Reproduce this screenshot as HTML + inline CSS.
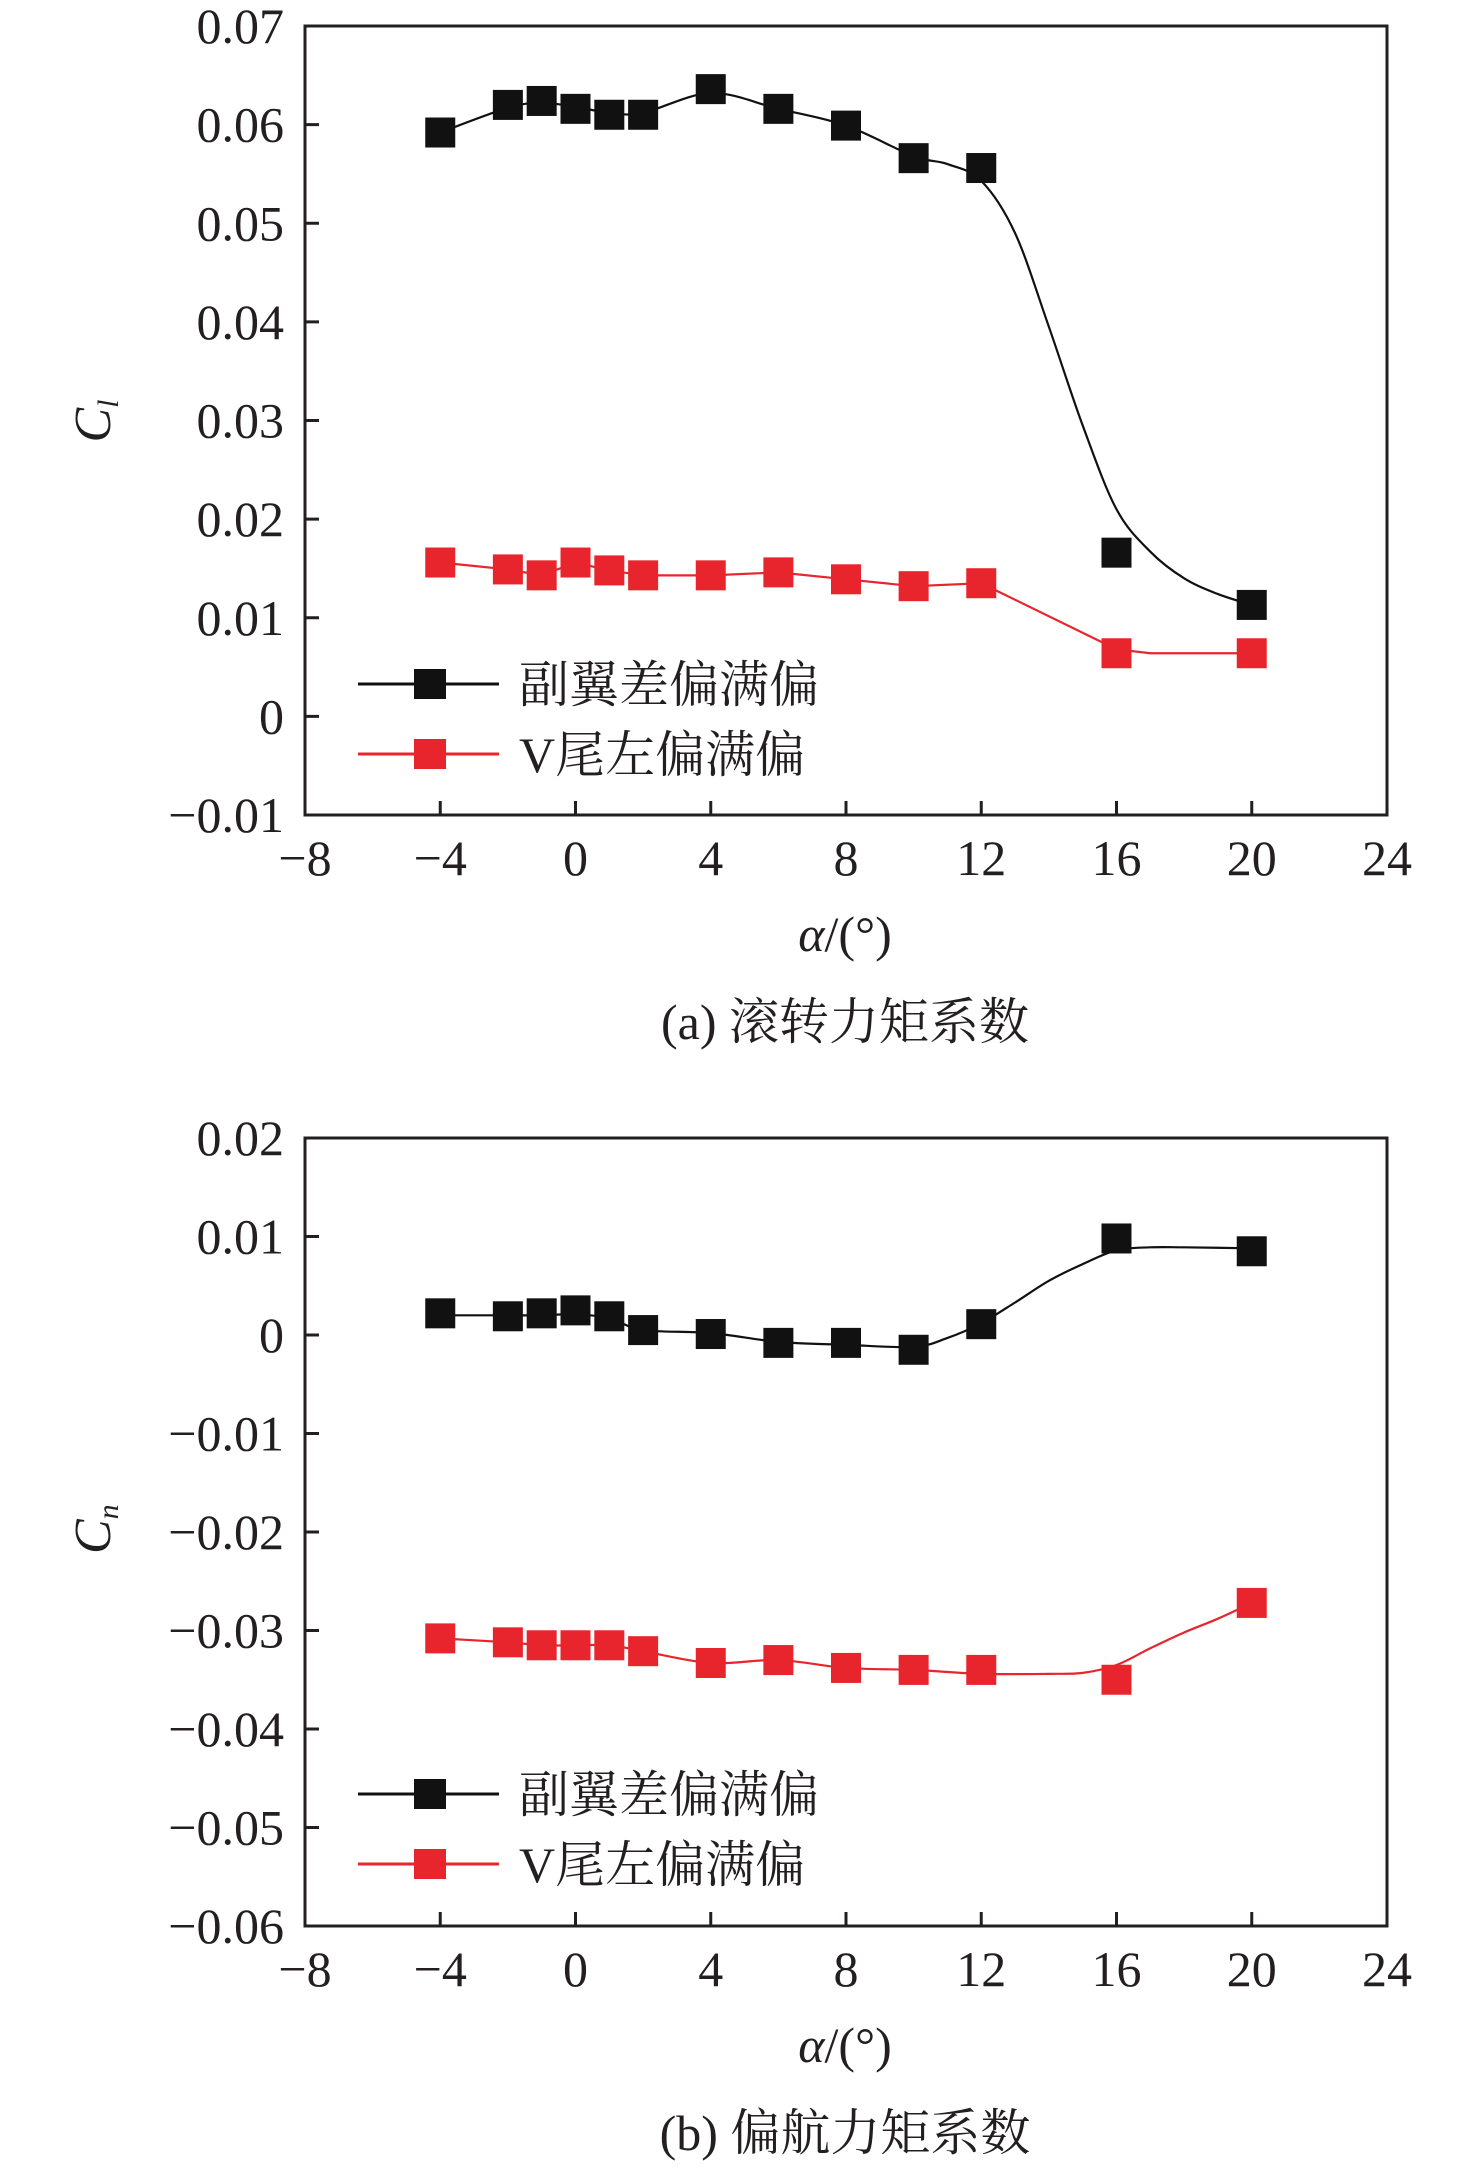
<!DOCTYPE html>
<html><head><meta charset="utf-8"><style>
html,body{margin:0;padding:0;background:#fff;}
svg{display:block;}
text{font-family:"Liberation Serif","Noto Serif CJK SC",serif;fill:#231f20;}
</style></head><body>
<svg id="fig" width="1476" height="2168" viewBox="0 0 1476 2168" xmlns="http://www.w3.org/2000/svg"></svg>
<script>
// ---- shared x data ----
const alphaPts = [-4,-2,-1,0,1,2,4,6,8,10,12,16,20];
const xTicks = [-8,-4,0,4,8,12,16,20,24];
// ---- chart (a) ----
const aBlack = [0.0592,0.0620,0.0624,0.0616,0.0610,0.0610,0.0636,0.0616,0.0599,0.0566,0.0556,0.0166,0.0113];
const aRed = [0.0156,0.0149,0.0143,0.0156,0.0148,0.0143,0.0143,0.0146,0.0139,0.0132,0.0135,0.0064,0.0064];
const aBlackFitX = [-4,-2,-1,0,1,2,4,6,8,10,11,12,13,14,15,16,17,18,19,20];
const aBlackFitY = [0.0592,0.0617,0.0622,0.0618,0.0612,0.0612,0.0632,0.0616,0.0599,0.0568,0.0560,0.0543,0.0490,0.0395,0.0295,0.0210,0.0167,0.0140,0.0124,0.0113];
const aRedFitX = [-4,-2,-1,0,1,2,4,6,8,10,12,16,17,20];
const aRedFitY = [0.0156,0.0149,0.0143,0.0156,0.0148,0.0143,0.0143,0.0146,0.0139,0.0132,0.0135,0.0068,0.0064,0.0064];
const aYTicks = [0.07,0.06,0.05,0.04,0.03,0.02,0.01,0,-0.01];
const aYLabels = ["0.07","0.06","0.05","0.04","0.03","0.02","0.01","0","\u22120.01"];
// ---- chart (b) ----
const bBlack = [0.0022,0.0019,0.0022,0.0025,0.0019,0.0005,0.0001,-0.0008,-0.0008,-0.0015,0.0011,0.0098,0.0085];
const bRed = [-0.0308,-0.0312,-0.0315,-0.0315,-0.0315,-0.0321,-0.0333,-0.0330,-0.0338,-0.0340,-0.0340,-0.0350,-0.0272];
const bBlackFitX = [-4,-2,-1,0,1,2,4,6,8,10,11,12,13,14,15,16,17,18,20];
const bBlackFitY = [0.0020,0.0020,0.0020,0.0021,0.0017,0.0005,0.0002,-0.0007,-0.0010,-0.0012,-0.0003,0.0012,0.0033,0.0055,0.0072,0.0086,0.0089,0.0089,0.0088];
const bRedFitX = [-4,-2,-1,0,1,2,4,6,8,10,12,14,15,16,17,18,19,20];
const bRedFitY = [-0.0308,-0.0312,-0.0315,-0.0315,-0.0315,-0.0321,-0.0333,-0.0330,-0.0338,-0.0340,-0.0344,-0.0344,-0.0343,-0.0335,-0.0318,-0.0302,-0.0288,-0.0272];
const bYTicks = [0.02,0.01,0,-0.01,-0.02,-0.03,-0.04,-0.05,-0.06];
const bYLabels = ["0.02","0.01","0","\u22120.01","\u22120.02","\u22120.03","\u22120.04","\u22120.05","\u22120.06"];
const legendNames = ["副翼差偏满偏","V尾左偏满偏"];

const NS = "http://www.w3.org/2000/svg";
const svg = document.getElementById('fig');
function mk(tag, attrs, parent){
  const e = document.createElementNS(NS, tag);
  for (const k in attrs) e.setAttribute(k, attrs[k]);
  (parent||svg).appendChild(e);
  return e;
}
function smoothPath(pts){
  let d = `M${pts[0][0]},${pts[0][1]}`;
  for (let i=0;i<pts.length-1;i++){
    const p0=pts[Math.max(0,i-1)], p1=pts[i], p2=pts[i+1], p3=pts[Math.min(pts.length-1,i+2)];
    const c1x=p1[0]+(p2[0]-p0[0])/6, c1y=p1[1]+(p2[1]-p0[1])/6;
    const c2x=p2[0]-(p3[0]-p1[0])/6, c2y=p2[1]-(p3[1]-p1[1])/6;
    d += ` C${c1x},${c1y} ${c2x},${c2y} ${p2[0]},${p2[1]}`;
  }
  return d;
}
function linePath(pts){
  return pts.map((p,i)=>(i?'L':'M')+p[0]+','+p[1]).join(' ');
}
function drawChart(cfg){
  const L=305, R=1387, T=cfg.top, B=cfg.bottom;
  const g = mk('g', {});
  
  
  const xs = v => L + (v - (-8)) / 32 * (R - L);
  const ys = v => T + (cfg.yMax - v) / (cfg.yMax - cfg.yMin) * (B - T);
  const frame = mk('rect', {x:L, y:T, width:R-L, height:B-T, fill:'none', stroke:'#231f20', 'stroke-width':3}, g);
  
  
  cfg.yTicks.forEach((v,i)=>{
    const y = ys(v);
    const t = mk('line', {x1:L, x2:L+14, y1:y, y2:y, stroke:'#231f20', 'stroke-width':3}, g);
    
    
    const lb = mk('text', {x:284, y:y+17, 'font-size':50, 'text-anchor':'end'}, g);
    
    
    lb.textContent = cfg.yLabels[i];
  });
  xTicks.forEach(v=>{
    const x = xs(v);
    const t = mk('line', {x1:x, x2:x, y1:B, y2:B-14, stroke:'#231f20', 'stroke-width':3}, g);
    
    
    const lb = mk('text', {x:x, y:B+60, 'font-size':50, 'text-anchor':'middle'}, g);
    
    
    lb.textContent = v < 0 ? '\u2212' + Math.abs(v) : String(v);
  });
  const series = [
    {fx:cfg.blackFitX, fy:cfg.blackFitY, vals:cfg.black, color:'#111', name:'black', smooth:true},
    {fx:cfg.redFitX, fy:cfg.redFitY, vals:cfg.red, color:'#e8252c', name:'red', smooth:cfg.redSmooth}
  ];
  series.forEach(s=>{
    const pts = s.fx.map((x,i)=>[xs(x), ys(s.fy[i])]);
    const p = mk('path', {d:s.smooth?smoothPath(pts):linePath(pts), fill:'none', stroke:s.color, 'stroke-width':2.2}, g);
    
    
    alphaPts.forEach((a,i)=>{
      const cx = xs(a), cy = ys(s.vals[i]);
      const r = mk('rect', {x:cx-15, y:cy-15, width:30, height:30, fill:s.color}, g);
      
      
    });
  });
  const ly = [cfg.legendY, cfg.legendY + 70];
  ['#111','#e8252c'].forEach((c,i)=>{
    const lg = mk('g', {}, g);
    
    
    mk('line', {x1:358, x2:499, y1:ly[i], y2:ly[i], stroke:c, 'stroke-width':3}, lg);
    mk('rect', {x:414, y:ly[i]-15, width:32, height:30, fill:c}, lg);
    const tx = mk('text', {x:519, y:ly[i]+18, 'font-size':50}, lg);
    tx.textContent = legendNames[i];
  });
  const yt = mk('text', {x:0, y:0, 'font-size':52, 'font-style':'italic', transform:`translate(110,${(T+B)/2+22}) rotate(-90)`}, g);
  
  
  yt.innerHTML = 'C<tspan font-size="30" dy="8">' + cfg.ySub + '</tspan>';
  const xt = mk('text', {x:845, y:B+136, 'font-size':50, 'text-anchor':'middle'}, g);
  
  
  xt.innerHTML = '<tspan font-style="italic">α</tspan>/(°)';
  const cap = mk('text', {x:845, y:B+224, 'font-size':50, 'text-anchor':'middle'}, g);
  
  
  cap.textContent = cfg.caption;
}
drawChart({name:'roll-moment-chart', top:26, bottom:815, yMax:0.07, yMin:-0.01,
  yTicks:aYTicks, yLabels:aYLabels, black:aBlack, red:aRed,
  blackFitX:aBlackFitX, blackFitY:aBlackFitY, redFitX:aRedFitX, redFitY:aRedFitY, redSmooth:false,
  legendY:684, ySub:'l', caption:'(a) 滚转力矩系数'});
drawChart({name:'yaw-moment-chart', top:1138, bottom:1926, yMax:0.02, yMin:-0.06,
  yTicks:bYTicks, yLabels:bYLabels, black:bBlack, red:bRed,
  blackFitX:bBlackFitX, blackFitY:bBlackFitY, redFitX:bRedFitX, redFitY:bRedFitY, redSmooth:true,
  legendY:1794, ySub:'n', caption:'(b) 偏航力矩系数'});
</script>
</body></html>
